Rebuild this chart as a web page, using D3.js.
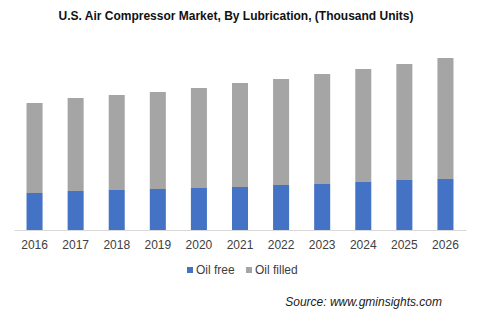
<!DOCTYPE html>
<html><head><meta charset="utf-8">
<script src="https://cdn.jsdelivr.net/npm/d3@7"></script>
<style>body{margin:0;background:#fff}svg{display:block}</style>
</head><body>
<svg id="c" width="480" height="321"></svg>
<script>
const years = ["2016","2017","2018","2019","2020","2021","2022","2023","2024","2025","2026"];
const oilFree = [37, 39, 40, 41, 42, 43, 45, 46, 48, 50, 51];
const oilFilled = [90, 93, 95, 97, 100, 104, 106, 110, 113, 116, 121];
const seriesNames = ["Oil free", "Oil filled"];
const colors = ["#4472C4", "#A5A5A5"];

const svg = d3.select("#c");
const font = "'Liberation Sans', Arial, sans-serif";

const x = d3.scaleBand().domain(years).range([14, 466]).paddingInner(0.61).paddingOuter(0.305);
const y = d3.scaleLinear().domain([0, 200]).range([230, 30]);

const rows = years.map((yr, i) => ({year: yr, "Oil free": oilFree[i], "Oil filled": oilFilled[i]}));
const stack = d3.stack().keys(seriesNames)(rows);

svg.append("text").attr("x", 236).attr("y", 20).attr("text-anchor", "middle")
  .attr("font-family", font).attr("font-weight", "bold").attr("font-size", 12).attr("fill", "#111")
  .text("U.S. Air Compressor Market, By Lubrication, (Thousand Units)");

svg.append("g").selectAll("g").data(stack).join("g")
  .attr("fill", (d, i) => colors[i])
  .selectAll("rect").data(d => d).join("rect")
  .attr("x", d => x(d.data.year))
  .attr("width", x.bandwidth())
  .attr("y", d => y(d[1]))
  .attr("height", d => y(d[0]) - y(d[1]));

const ax = svg.append("g").attr("transform", "translate(0,230)")
  .call(d3.axisBottom(x).tickSize(0).tickPadding(10));
ax.select(".domain").attr("stroke", "#D9D9D9").attr("stroke-width", 1);
ax.selectAll("text").attr("font-family", font).attr("font-size", 12).attr("fill", "#404040");

const leg = svg.append("g");
const legX = [187, 246];
seriesNames.forEach((n, i) => {
  leg.append("rect").attr("x", legX[i]).attr("y", 267).attr("width", 6).attr("height", 6).attr("fill", colors[i]);
  leg.append("text").attr("x", legX[i] + 9).attr("y", 274).attr("font-family", font).attr("font-size", 12)
    .attr("fill", "#404040").text(n);
});

svg.append("text").attr("x", 442).attr("y", 306).attr("text-anchor", "end")
  .attr("font-family", font).attr("font-style", "italic").attr("font-size", 12).attr("fill", "#1a1a1a")
  .text("Source: www.gminsights.com");
</script>
</body></html>
